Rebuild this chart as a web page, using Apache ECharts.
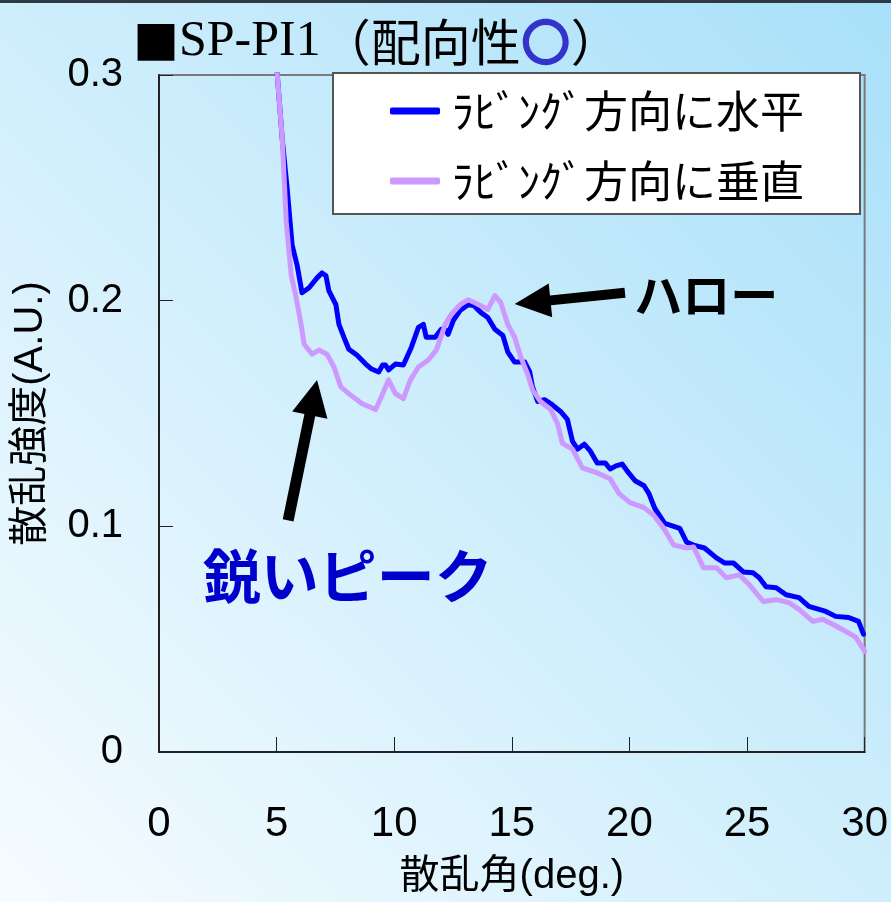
<!DOCTYPE html>
<html>
<head>
<meta charset="utf-8">
<script src="https://cdn.jsdelivr.net/npm/echarts@6/dist/echarts.min.js"></script>
<style>
  html, body { margin: 0; padding: 0; }
  #chart { width: 891px; height: 902px; }
</style>
</head>
<body>
<div id="chart"></div>
<script>
// Scattering angle (deg.) and intensity (A.U.) for rubbing-parallel measurement
const parallelAngle = [4.95, 5.03, 5.24, 5.45, 5.66, 5.87, 6.08, 6.38, 6.72, 6.93, 7.10, 7.22, 7.52, 7.65, 7.86, 8.07, 8.41, 8.79, 9.04, 9.34, 9.51, 9.63, 9.76, 10.05, 10.39, 10.73, 11.03, 11.24, 11.36, 11.74, 12.00, 12.17, 12.29, 12.51, 12.80, 13.14, 13.39, 13.69, 13.98, 14.28, 14.62, 14.83, 15.12, 15.55, 15.76, 15.88, 16.10, 16.39, 16.65, 17.07, 17.36, 17.58, 17.79, 18.08, 18.34, 18.63, 18.97, 19.18, 19.43, 19.69, 19.90, 20.24, 20.62, 20.83, 21.08, 21.50, 22.14, 22.43, 22.73, 23.19, 23.70, 24.04, 24.42, 24.84, 25.26, 25.52, 25.81, 26.24, 26.66, 27.21, 27.63, 28.35, 28.77, 29.32, 29.74, 29.95];
const parallelIntensity = [0.32, 0.300, 0.2715, 0.2496, 0.2246, 0.2158, 0.2035, 0.2057, 0.2101, 0.2123, 0.211, 0.2044, 0.1982, 0.1895, 0.1838, 0.1785, 0.1759, 0.1719, 0.1697, 0.1684, 0.1715, 0.1715, 0.1693, 0.1719, 0.1715, 0.1794, 0.1882, 0.1895, 0.1838, 0.1838, 0.1873, 0.1873, 0.1851, 0.1912, 0.1956, 0.1982, 0.1978, 0.1947, 0.1925, 0.1873, 0.1846, 0.1772, 0.1728, 0.1728, 0.1684, 0.1618, 0.1553, 0.1561, 0.1544, 0.1509, 0.1474, 0.1377, 0.1342, 0.1364, 0.1333, 0.1281, 0.1281, 0.1254, 0.1268, 0.1276, 0.1246, 0.1202, 0.1180, 0.1145, 0.1079, 0.1013, 0.0991, 0.0930, 0.0917, 0.0904, 0.0860, 0.0838, 0.0838, 0.0798, 0.0794, 0.0772, 0.0732, 0.0728, 0.0697, 0.0684, 0.0645, 0.0623, 0.0601, 0.0596, 0.0579, 0.0522];

// Rubbing-perpendicular measurement
const perpendicularAngle = [4.86, 5.03, 5.24, 5.41, 5.62, 5.83, 6.04, 6.17, 6.51, 6.80, 7.14, 7.44, 7.73, 8.07, 8.62, 9.21, 9.46, 9.76, 10.05, 10.39, 10.69, 11.03, 11.45, 11.79, 12.17, 12.42, 12.80, 13.14, 13.43, 13.98, 14.28, 14.53, 14.83, 15.12, 15.38, 15.67, 15.88, 16.22, 16.65, 16.94, 17.15, 17.58, 18.00, 18.63, 19.18, 19.56, 20.03, 20.62, 21.04, 21.46, 21.88, 22.43, 22.73, 23.15, 23.70, 24.12, 24.67, 25.10, 25.69, 26.24, 26.78, 27.21, 27.80, 28.22, 28.64, 29.19, 29.62, 30.00];
const perpendicularIntensity = [0.32, 0.300, 0.2715, 0.235, 0.2114, 0.2013, 0.1895, 0.1807, 0.1763, 0.1781, 0.1763, 0.1706, 0.1618, 0.1588, 0.1544, 0.1518, 0.1575, 0.1649, 0.1588, 0.1566, 0.1649, 0.1706, 0.1737, 0.1781, 0.1895, 0.1939, 0.1982, 0.2004, 0.1991, 0.1961, 0.2022, 0.1991, 0.1895, 0.1838, 0.1750, 0.1675, 0.1605, 0.1553, 0.1518, 0.1456, 0.1368, 0.1342, 0.1259, 0.1237, 0.1211, 0.1145, 0.1105, 0.1083, 0.1048, 0.0991, 0.0917, 0.0904, 0.0908, 0.0816, 0.0816, 0.0772, 0.0785, 0.0741, 0.0667, 0.0675, 0.0662, 0.0632, 0.0579, 0.0588, 0.0566, 0.0535, 0.0509, 0.0447];

const seriesNames = ['ﾗﾋﾞﾝｸﾞ方向に水平', 'ﾗﾋﾞﾝｸﾞ方向に垂直'];
const seriesColors = ['#0000ff', '#cc99ff'];
const xTicks = { min: 0, max: 30, interval: 5 };
const yTicks = { min: 0, max: 0.3, interval: 0.1 };

// Annotation anchors in data space: [tail, tip]
const haloArrow = [[19.81, 0.2035], [15.12, 0.1985]];
const haloLabel = { text: 'ハロー', at: [20.2, 0.2026] };
const peakArrow = [[5.49, 0.1026], [6.72, 0.1649]];
const peakLabel = { text: '鋭いピーク', at: [1.86, 0.078] };

const zip = (xs, ys) => xs.map((x, i) => [x, ys[i]]);

const NARROW = '"Liberation Sans Narrow", "Arial Narrow", "Liberation Sans", "Noto Sans CJK JP", sans-serif';
const CJK = '"Noto Sans CJK JP", sans-serif';

const chart = echarts.init(document.getElementById('chart'));

chart.setOption({
  animation: false,
  backgroundColor: new echarts.graphic.LinearGradient(0, 1, 1, 0, [
    { offset: 0, color: '#f6fcff' },
    { offset: 1, color: '#a8e0f9' }
  ]),
  title: {
    left: 128,
    top: 12,
    text: '{sq|■}{lat|SP-PI1}{cj|（配向性}{cir|〇}{cj|）}',
    textStyle: {
      fontWeight: 'normal',
      rich: {
        sq: { fontFamily: CJK, fontSize: 46, fontWeight: 'normal', color: '#000' },
        lat: { fontFamily: '"Liberation Serif", "Times New Roman", serif', fontSize: 50, fontWeight: 'normal', color: '#000' },
        cj: { fontFamily: CJK, fontSize: 50, fontWeight: 'normal', color: '#000' },
        cir: { fontFamily: CJK, fontSize: 50, fontWeight: 'bold', color: '#3333cc' }
      }
    }
  },
  legend: {
    orient: 'vertical',
    left: 333,
    top: 73,
    padding: [16, 56, 11, 57],
    itemGap: 26,
    itemWidth: 50,
    itemHeight: 7,
    icon: 'roundRect',
    backgroundColor: '#ffffff',
    borderColor: '#555555',
    borderWidth: 2,
    borderRadius: 0,
    textStyle: { fontFamily: CJK, fontSize: 44, lineHeight: 44, color: '#000', padding: [0, 0, 0, 7] },
    data: seriesNames
  },
  grid: {
    left: 159, right: 22, top: 75, bottom: 143,
    show: true, borderColor: '#7a7a7a', borderWidth: 2, backgroundColor: 'transparent'
  },
  xAxis: {
    type: 'value',
    min: xTicks.min, max: xTicks.max, interval: xTicks.interval,
    name: '散乱角(deg.)',
    nameLocation: 'middle',
    nameGap: 105,
    nameTextStyle: { fontFamily: NARROW, fontSize: 40, color: '#000' },
    axisLine: { show: true, onZero: false, lineStyle: { color: '#222', width: 2 } },
    axisTick: { show: true, inside: true, length: 15, lineStyle: { color: '#222', width: 1 } },
    axisLabel: { fontFamily: NARROW, fontSize: 42, color: '#000', margin: 51 },
    splitLine: { show: false }
  },
  yAxis: {
    type: 'value',
    min: yTicks.min, max: yTicks.max, interval: yTicks.interval,
    name: '散乱強度(A.U.)',
    nameLocation: 'middle',
    nameGap: 108,
    nameTextStyle: { fontFamily: NARROW, fontSize: 40, color: '#000' },
    axisLine: { show: true, onZero: false, lineStyle: { color: '#222', width: 2 } },
    axisTick: { show: true, inside: true, length: 14, lineStyle: { color: '#222', width: 1 } },
    axisLabel: { fontFamily: NARROW, fontSize: 40, color: '#000', margin: 36, padding: [6, 0, 0, 0] },
    splitLine: { show: false }
  },
  series: [
    {
      name: seriesNames[0],
      type: 'line',
      data: zip(parallelAngle, parallelIntensity),
      showSymbol: false,
      clip: true,
      color: seriesColors[0],
      lineStyle: { color: seriesColors[0], width: 5, join: 'round', cap: 'round' },
      z: 2
    },
    {
      name: seriesNames[1],
      type: 'line',
      data: zip(perpendicularAngle, perpendicularIntensity),
      showSymbol: false,
      clip: true,
      color: seriesColors[1],
      lineStyle: { color: seriesColors[1], width: 5, join: 'round', cap: 'round' },
      z: 3
    }
  ]
});

// Build a filled arrow polygon from tail to tip (pixel space)
function arrowPoints(tail, tip, shaft, headLen, headWidth) {
  const dx = tip[0] - tail[0], dy = tip[1] - tail[1];
  const len = Math.hypot(dx, dy);
  const ux = dx / len, uy = dy / len;
  const nx = -uy, ny = ux;
  const bx = tip[0] - ux * headLen, by = tip[1] - uy * headLen;
  const s = shaft / 2, h = headWidth / 2;
  return [
    [tail[0] + nx * s, tail[1] + ny * s],
    [bx + nx * s, by + ny * s],
    [bx + nx * h, by + ny * h],
    tip,
    [bx - nx * h, by - ny * h],
    [bx - nx * s, by - ny * s],
    [tail[0] - nx * s, tail[1] - ny * s]
  ];
}

const toPx = p => chart.convertToPixel({ gridIndex: 0 }, p);

const haloTail = toPx(haloArrow[0]), haloTip = toPx(haloArrow[1]);
const peakTail = toPx(peakArrow[0]), peakTip = toPx(peakArrow[1]);
const haloPos = toPx(haloLabel.at), peakPos = toPx(peakLabel.at);

chart.setOption({
  graphic: [
    { type: 'rect', shape: { x: 0, y: 0, width: 891, height: 3 }, style: { fill: '#2f3a45' }, z: 100 },
    { type: 'polygon', shape: { points: arrowPoints(haloTail, haloTip, 10, 36, 34) }, style: { fill: '#000' }, z: 100 },
    { type: 'polygon', shape: { points: arrowPoints(peakTail, peakTip, 11, 36, 36) }, style: { fill: '#000' }, z: 100 },
    {
      type: 'text', x: haloPos[0], y: haloPos[1], z: 100,
      style: { text: haloLabel.text, fill: '#000', font: 'bold 48px "Noto Sans CJK JP", sans-serif', verticalAlign: 'middle', align: 'left' }
    },
    {
      type: 'text', x: peakPos[0], y: peakPos[1], z: 100,
      style: { text: peakLabel.text, fill: '#0000cc', font: 'bold 58px "Noto Sans CJK JP", sans-serif', verticalAlign: 'middle', align: 'left' }
    }
  ]
});
</script>
</body>
</html>
